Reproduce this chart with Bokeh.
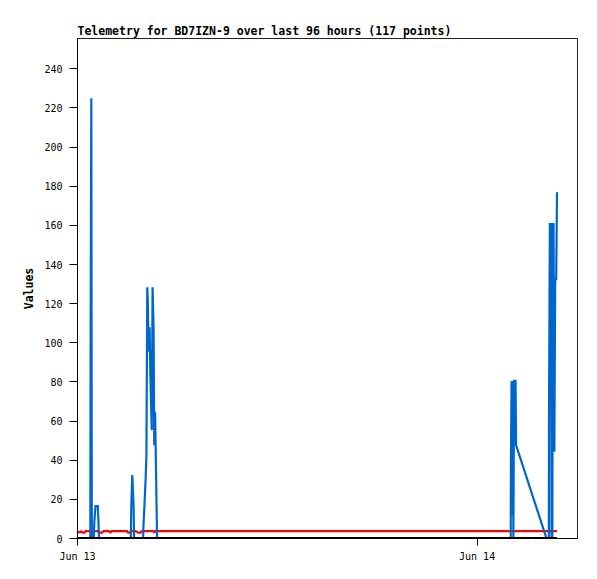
from datetime import datetime, timedelta
from bokeh.plotting import figure
from bokeh.models import Range1d, FixedTicker, DatetimeTickFormatter, ColumnDataSource
from bokeh.embed import file_html
from bokeh.resources import INLINE

# ---- data (hours since Jun 13 00:00) ----
start = datetime(2024, 6, 13)
day_ticks = ["2024-06-13", "2024-06-14"]

hours = [
    0.02, 0.11, 0.23, 0.29, 0.41, 0.50, 0.65, 0.77, 0.79, 0.83, 0.86, 0.98, 1.01, 1.08, 1.22,
    1.26, 1.29, 1.34, 1.49, 1.55, 1.76, 1.91, 1.97, 2.06, 2.30, 2.54, 2.78, 2.99, 3.02, 3.17,
    3.20, 3.23, 3.29, 3.37, 3.40, 3.50, 3.65, 3.80, 3.86, 3.94, 3.96, 4.03, 4.09, 4.14, 4.19,
    4.22, 4.27, 4.33, 4.38, 4.42, 4.46, 4.51, 4.57, 4.61, 4.66, 4.74, 4.78, 4.88,
    5.32, 5.91, 6.47, 7.05, 7.66, 8.21, 8.80, 9.38, 9.97, 10.55, 11.12, 11.71, 12.30, 12.86,
    13.45, 14.03, 14.62, 15.20, 15.78, 16.37, 16.95, 17.52, 18.11, 18.70, 19.27, 19.85, 20.44,
    21.02, 21.60, 22.19, 22.77, 23.35, 23.93, 24.52, 25.10, 25.45,
    25.84, 26.02, 26.03, 26.07, 26.10, 26.14, 26.18, 26.22, 26.31, 26.34, 28.17, 28.31, 28.32,
    28.37, 28.44, 28.47, 28.52, 28.55, 28.59, 28.64, 28.69, 28.75, 28.80,
]

blue_values = [
    0, 0, 0, 0, 0, 0, 0, 0, 112.5, 225, 0, 0, 8.5, 16.5, 16.5,
    8.5, 0, 0, 0, 0, 0, 0, 0, 0, 0, 0, 0, 0, 0, 0,
    0, 16.5, 32.4, 16.5, 0, 0, 0, 0, 0, 0, 6.0, 18.7, 30.0, 42.6, 128.4,
    122.0, 95.5, 108.0, 82.0, 68.2, 55.4, 128.4, 107.0, 47.7, 64.8, 21.6, 0, 0,
    0, 0, 0, 0, 0, 0, 0, 0, 0, 0, 0, 0, 0, 0,
    0, 0, 0, 0, 0, 0, 0, 0, 0, 0, 0, 0, 0,
    0, 0, 0, 0, 0, 0, 0, 0, 0,
    0, 0, 36.0, 80.5, 12.0, 80.5, 0, 80.5, 80.5, 47.7, 0, 0, 64.8,
    160.6, 160.6, 0, 0, 160.6, 160.6, 44.3, 132.5, 132.5, 177.0,
]

red_values = [
    3.4, 3.0, 3.8, 3.0, 3.0, 3.8, 3.8, 3.8, 3.8, 3.8, 3.8, 3.8, 3.8, 3.8, 3.8,
    3.8, 3.8, 3.0, 3.0, 3.8, 3.8, 3.8, 3.0, 3.8, 3.8, 3.8, 3.8, 3.8, 3.0, 3.0,
    3.8, 3.8, 3.8, 3.8, 3.8, 3.8, 3.0, 3.0, 3.8, 3.8, 3.8, 3.8, 3.8, 3.8, 3.8,
    3.8, 3.8, 3.8, 3.8, 3.8, 3.8, 3.8, 3.8, 3.0, 3.8, 3.8, 3.8, 3.8,
    3.8, 3.8, 3.8, 3.8, 3.8, 3.8, 3.8, 3.8, 3.8, 3.8, 3.8, 3.8, 3.8, 3.8,
    3.8, 3.8, 3.8, 3.8, 3.8, 3.8, 3.8, 3.8, 3.8, 3.8, 3.8, 3.8, 3.8,
    3.8, 3.8, 3.8, 3.8, 3.8, 3.8, 3.8, 3.8, 3.8,
    3.8, 3.8, 3.8, 3.8, 3.8, 3.8, 3.8, 3.8, 3.8, 3.8, 3.8, 3.8, 3.8,
    3.8, 3.8, 3.8, 3.8, 3.8, 3.8, 3.8, 3.8, 3.8, 3.8,
]

black_values = [0] * len(hours)

y_ticks = list(range(0, 241, 20))
title_text = "Telemetry for BD7IZN-9 over last 96 hours (117 points)"
y_label = "Values"
x_span_hours = 30.03
y_max = 255.5

times = [start + timedelta(hours=h) for h in hours]
src = ColumnDataSource(dict(t=times, blue=blue_values, red=red_values, black=black_values))

FONT = "DejaVu Sans Mono"

p = figure(
    width=589, height=571,
    x_axis_type="datetime",
    output_backend="svg", toolbar_location=None,
    min_border_left=77, min_border_right=12, min_border_top=38, min_border_bottom=33,
    title=title_text,
)
p.x_range = Range1d(start, start + timedelta(hours=x_span_hours))
p.y_range = Range1d(0, y_max)

p.title.text_font = FONT
p.title.text_font_size = "11.5px"
p.title.text_font_style = "bold"
p.title.text_color = "black"
p.title.standoff = 2
p.title.offset = 0

p.line("t", "red", source=src, line_color="#ff0000", line_width=2.2)
p.line("t", "blue", source=src, line_color="#0066cc", line_width=2.2, line_join="miter")
p.line("t", "black", source=src, line_color="#000000", line_width=3.2)

p.grid.visible = False
p.outline_line_color = "#222222"
p.outline_line_width = 1
p.background_fill_color = "white"
p.border_fill_color = "white"

tick_ms = [(datetime.fromisoformat(d) - datetime(1970, 1, 1)).total_seconds() * 1000 for d in day_ticks]
p.xaxis.ticker = FixedTicker(ticks=tick_ms)
fmt = "%b %d"
p.xaxis.formatter = DatetimeTickFormatter(
    milliseconds=fmt, seconds=fmt, minsec=fmt, minutes=fmt, hourmin=fmt,
    hours=fmt, days=fmt, months=fmt, years=fmt,
)
p.yaxis.ticker = FixedTicker(ticks=y_ticks)
p.yaxis.axis_label = y_label

for ax in (p.xaxis[0], p.yaxis[0]):
    ax.axis_line_color = "black"
    ax.axis_line_width = 1
    ax.major_tick_line_color = "black"
    ax.major_tick_in = 0
    ax.minor_tick_in = 0
    ax.minor_tick_out = 0
    ax.major_label_text_font = FONT
    ax.major_label_text_font_size = "10px"
    ax.major_label_text_color = "black"

p.xaxis.major_tick_out = 7
p.xaxis.major_label_standoff = 5
p.yaxis.major_tick_out = 8
p.yaxis.major_label_standoff = 7
p.yaxis.axis_label_text_font = FONT
p.yaxis.axis_label_text_font_size = "11.5px"
p.yaxis.axis_label_text_font_style = "bold"
p.yaxis.axis_label_text_color = "black"
p.yaxis.axis_label_standoff = 5

open("out.html", "w").write(file_html(p, INLINE))
